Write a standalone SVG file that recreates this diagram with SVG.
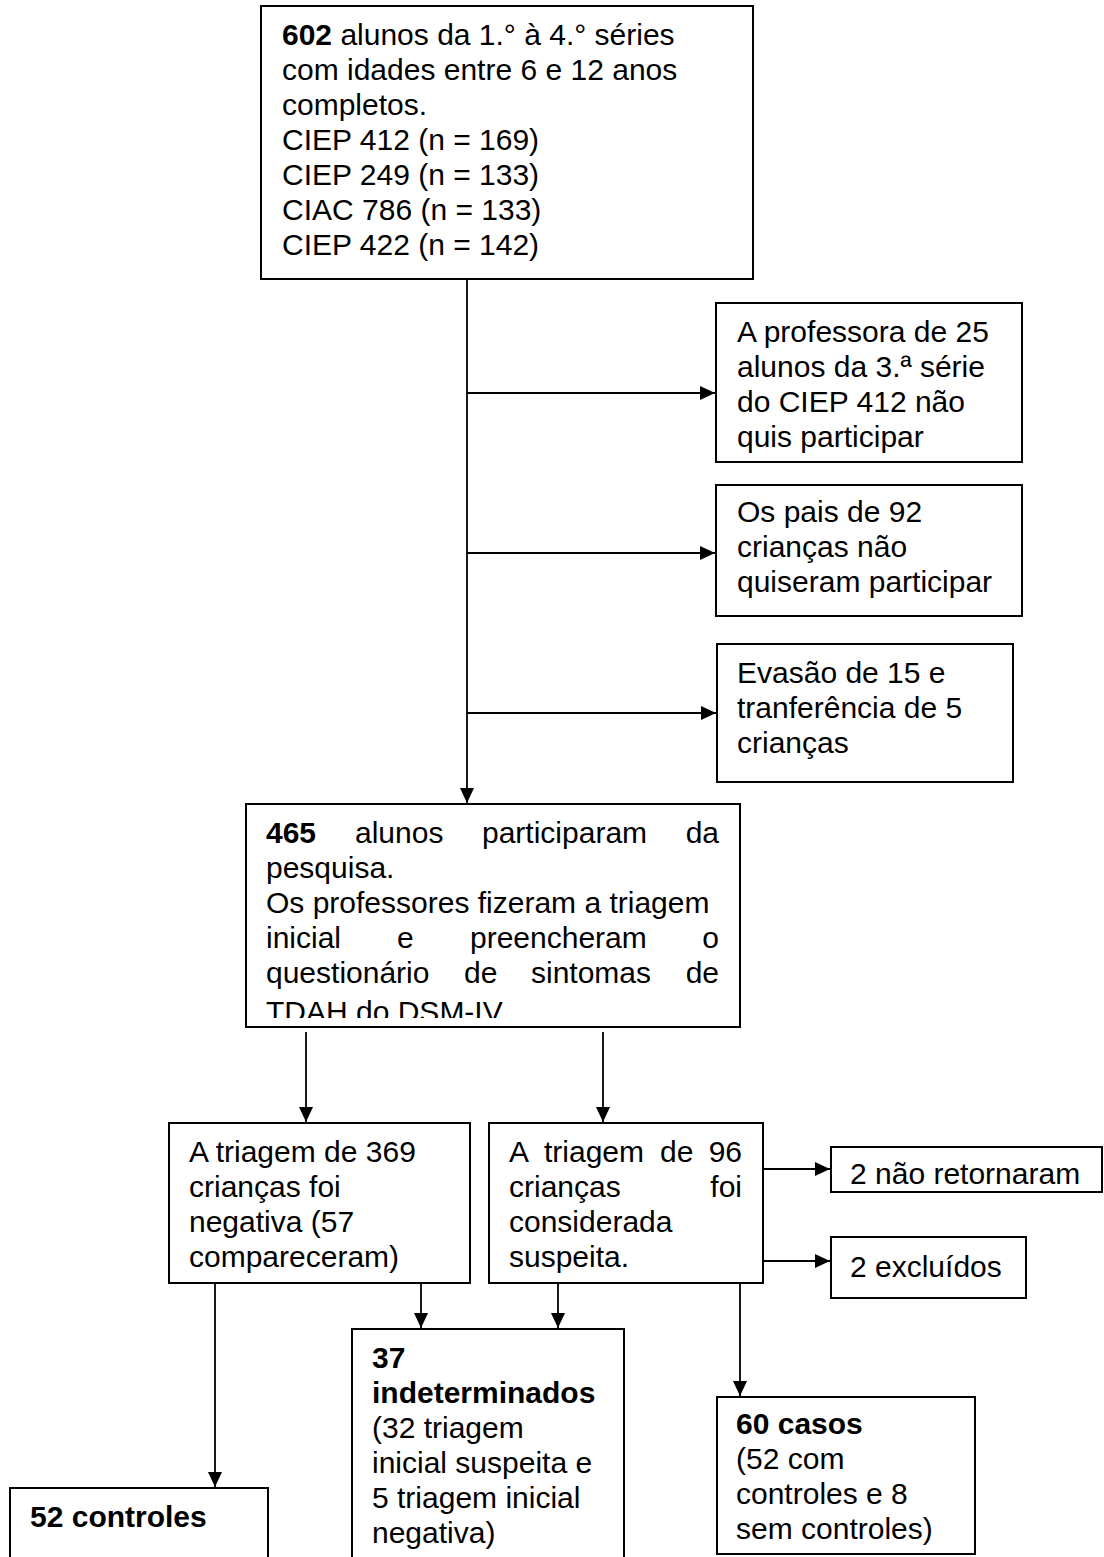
<svg xmlns="http://www.w3.org/2000/svg" width="1104" height="1557" viewBox="0 0 1104 1557">
<style>
  .box { fill: #fff; stroke: #000; stroke-width: 2; }
  .t { font-family: "Liberation Sans", Arial, sans-serif; font-size: 30px; fill: #000; }
  .b { font-weight: bold; }
  .e { text-anchor: end; }
  .conn line { stroke: #000; stroke-width: 1.8; fill: none; }
  .arr { marker-end: url(#ah); }
</style>
<defs>
  <marker id="ah" markerUnits="userSpaceOnUse" markerWidth="16" markerHeight="16" viewBox="0 0 16 16" refX="15" refY="8" orient="auto">
    <path d="M0,1 L15,8 L0,15 Z" fill="#000"/>
  </marker>
  <clipPath id="clip465"><rect x="246" y="804" width="494" height="214"/></clipPath>
</defs>
<rect width="1104" height="1557" fill="#fff"/>

<g id="connectors" class="conn">
  <line class="arr" x1="467" y1="280" x2="467" y2="803"/>
  <line class="arr" x1="467" y1="393" x2="715" y2="393"/>
  <line class="arr" x1="467" y1="553" x2="715" y2="553"/>
  <line class="arr" x1="467" y1="713" x2="716" y2="713"/>
  <line class="arr" x1="306" y1="1032" x2="306" y2="1122"/>
  <line class="arr" x1="603" y1="1032" x2="603" y2="1122"/>
  <line class="arr" x1="763" y1="1169" x2="830" y2="1169"/>
  <line class="arr" x1="763" y1="1261" x2="830" y2="1261"/>
  <line class="arr" x1="215" y1="1283" x2="215" y2="1487"/>
  <line class="arr" x1="421" y1="1283" x2="421" y2="1328"/>
  <line class="arr" x1="558" y1="1283" x2="558" y2="1328"/>
  <line class="arr" x1="740" y1="1283" x2="740" y2="1396"/>
</g>

<g id="n602">
  <rect class="box" x="261" y="6" width="492" height="273"/>
  <text class="t" x="282" y="45"><tspan class="b">602</tspan> alunos da 1.° à 4.° séries</text>
  <text class="t" x="282" y="80">com idades entre 6 e 12 anos</text>
  <text class="t" x="282" y="115">completos.</text>
  <text class="t" x="282" y="150">CIEP 412 (n = 169)</text>
  <text class="t" x="282" y="185">CIEP 249 (n = 133)</text>
  <text class="t" x="282" y="220">CIAC 786 (n = 133)</text>
  <text class="t" x="282" y="255">CIEP 422 (n = 142)</text>
</g>

<g id="nProfessora">
  <rect class="box" x="716" y="303" width="306" height="159"/>
  <text class="t" x="737" y="342">A professora de 25</text>
  <text class="t" x="737" y="377">alunos da 3.ª série</text>
  <text class="t" x="737" y="412">do CIEP 412 não</text>
  <text class="t" x="737" y="447">quis participar</text>
</g>

<g id="nPais">
  <rect class="box" x="716" y="485" width="306" height="131"/>
  <text class="t" x="737" y="522">Os pais de 92</text>
  <text class="t" x="737" y="557">crianças não</text>
  <text class="t" x="737" y="592">quiseram participar</text>
</g>

<g id="nEvasao">
  <rect class="box" x="717" y="644" width="296" height="138"/>
  <text class="t" x="737" y="683">Evasão de 15 e</text>
  <text class="t" x="737" y="718">tranferência de 5</text>
  <text class="t" x="737" y="753">crianças</text>
</g>

<g id="n465">
  <rect class="box" x="246" y="804" width="494" height="223"/>
  <g clip-path="url(#clip465)">
    <text class="t b" x="266" y="843">465</text>
    <text class="t" x="355" y="843">alunos</text>
    <text class="t" x="482" y="843">participaram</text>
    <text class="t e" x="719" y="843">da</text>
    <text class="t" x="266" y="878">pesquisa.</text>
    <text class="t" x="266" y="913">Os professores fizeram a triagem</text>
    <text class="t" x="266" y="948">inicial</text>
    <text class="t" x="397" y="948">e</text>
    <text class="t" x="470" y="948">preencheram</text>
    <text class="t e" x="719" y="948">o</text>
    <text class="t" x="266" y="983">questionário</text>
    <text class="t" x="464" y="983">de</text>
    <text class="t" x="531" y="983">sintomas</text>
    <text class="t e" x="719" y="983">de</text>
    <text class="t" x="266" y="1022">TDAH do DSM-IV</text>
  </g>
</g>

<g id="n369">
  <rect class="box" x="169" y="1123" width="301" height="160"/>
  <text class="t" x="189" y="1162">A triagem de 369</text>
  <text class="t" x="189" y="1197">crianças foi</text>
  <text class="t" x="189" y="1232">negativa (57</text>
  <text class="t" x="189" y="1267">compareceram)</text>
</g>

<g id="n96">
  <rect class="box" x="489" y="1123" width="274" height="160"/>
  <text class="t" x="509" y="1162">A</text>
  <text class="t" x="544" y="1162">triagem</text>
  <text class="t" x="660" y="1162">de</text>
  <text class="t e" x="742" y="1162">96</text>
  <text class="t" x="509" y="1197">crianças</text>
  <text class="t e" x="742" y="1197">foi</text>
  <text class="t" x="509" y="1232">considerada</text>
  <text class="t" x="509" y="1267">suspeita.</text>
</g>

<g id="nNaoRetornaram">
  <rect class="box" x="831" y="1147" width="271" height="45"/>
  <text class="t" x="850" y="1184">2 não retornaram</text>
</g>

<g id="nExcluidos">
  <rect class="box" x="831" y="1237" width="195" height="61"/>
  <text class="t" x="850" y="1277">2 excluídos</text>
</g>

<g id="n37">
  <rect class="box" x="352" y="1329" width="272" height="260"/>
  <text class="t b" x="372" y="1368">37</text>
  <text class="t b" x="372" y="1403">indeterminados</text>
  <text class="t" x="372" y="1438">(32 triagem</text>
  <text class="t" x="372" y="1473">inicial suspeita e</text>
  <text class="t" x="372" y="1508">5 triagem inicial</text>
  <text class="t" x="372" y="1543">negativa)</text>
</g>

<g id="n60">
  <rect class="box" x="717" y="1397" width="258" height="157"/>
  <text class="t b" x="736" y="1434">60 casos</text>
  <text class="t" x="736" y="1469">(52 com</text>
  <text class="t" x="736" y="1504">controles e 8</text>
  <text class="t" x="736" y="1539">sem controles)</text>
</g>

<g id="n52">
  <rect class="box" x="10" y="1488" width="258" height="100"/>
  <text class="t b" x="30" y="1527">52 controles</text>
</g>
</svg>
